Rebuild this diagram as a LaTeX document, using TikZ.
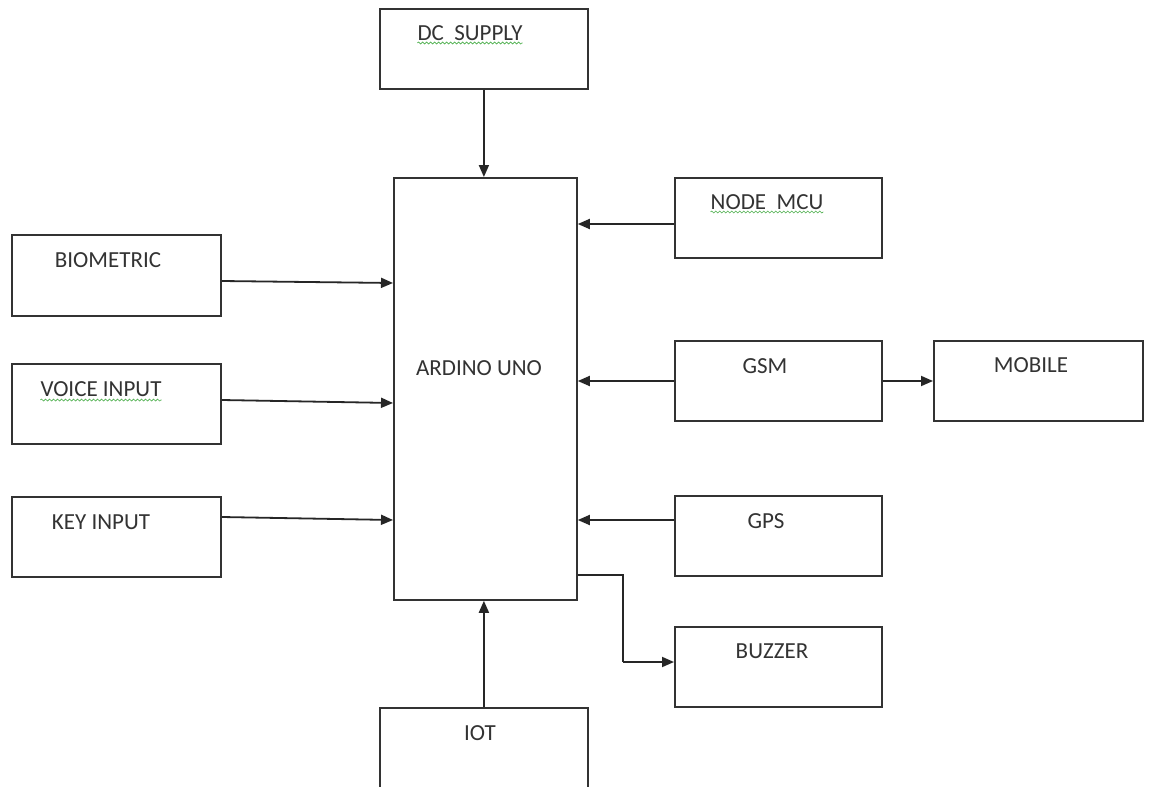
\documentclass[tikz,border=0pt]{standalone}
\usepackage{fontspec}
\setmainfont{Carlito}
\usetikzlibrary{arrows.meta,decorations.pathmorphing}
\begin{document}
\begin{tikzpicture}[x=1pt,y=-1pt,
  box/.style={draw=black!80, line width=1.8pt, rectangle, inner sep=0pt, anchor=north west},
  lbl/.style={text=black!80, font=\fontsize{23}{26}\selectfont, inner sep=0pt, anchor=center},
  arr/.style={draw=black!85, line width=1.8pt, -{Triangle[length=12pt,width=10pt]}},
  wire/.style={draw=black!85, line width=1.8pt},
  squig/.style={draw=green!55!black!70, line width=0.6pt, decorate,
    decoration={snake, amplitude=1pt, segment length=4pt}}]
\useasboundingbox[fill=white] (0,0) rectangle (1149,787);

% boxes
\node[box, minimum width=208pt, minimum height=80pt] (dc) at (379,8) {};
\node[box, minimum width=183pt, minimum height=422pt] (ard) at (393,177) {};
\node[box, minimum width=207pt, minimum height=80pt] (nmcu) at (674,177) {};
\node[box, minimum width=209pt, minimum height=81pt] (bio) at (11,234) {};
\node[box, minimum width=209pt, minimum height=80pt] (voice) at (11,363) {};
\node[box, minimum width=209pt, minimum height=80pt] (key) at (11,496) {};
\node[box, minimum width=207pt, minimum height=80pt] (gsm) at (674,340) {};
\node[box, minimum width=209pt, minimum height=80pt] (mob) at (933,340) {};
\node[box, minimum width=207pt, minimum height=80pt] (gps) at (674,495) {};
\node[box, minimum width=207pt, minimum height=80pt] (buz) at (674,626) {};
\node[box, minimum width=208pt, minimum height=100pt] (iot) at (379,707) {};

% labels
\node[lbl] (dct) at (470,33) {DC\ \ SUPPLY};
\node[lbl] (ardt) at (479,368) {ARDINO UNO};
\node[lbl] (nmcut) at (767,202) {NODE\ \ MCU};
\node[lbl] (biot) at (108,260) {BIOMETRIC};
\node[lbl] (voicet) at (101,389) {VOICE INPUT};
\node[lbl] (keyt) at (101,522) {KEY INPUT};
\node[lbl] (gsmt) at (765,366) {GSM};
\node[lbl] (mobt) at (1031,365) {MOBILE};
\node[lbl] (gpst) at (766,521) {GPS};
\node[lbl] (buzt) at (772,651) {BUZZER};
\node[lbl] (iott) at (480,733) {IOT};

% spell-check underlines
\draw[squig] ([yshift=-10pt]dct.west) -- ([yshift=-10pt]dct.east);
\draw[squig] ([yshift=-10pt]nmcut.west) -- ([yshift=-10pt]nmcut.east);
\draw[squig] ([yshift=-11pt]voicet.west) -- ([yshift=-11pt]voicet.east);

% connectors
\draw[arr] (dc.south) -- (dc.south |- ard.north);
\draw[arr] (bio.east |- 0,281) -- (ard.west |- 0,283);
\draw[arr] (voice.east |- 0,400) -- (ard.west |- 0,403);
\draw[arr] (key.east |- 0,517) -- (ard.west |- 0,520);
\draw[arr] (nmcu.west |- 0,224) -- (ard.east |- 0,224);
\draw[arr] (gsm.west |- 0,381) -- (ard.east |- 0,381);
\draw[arr] (gsm.east |- 0,381) -- (mob.west |- 0,381);
\draw[arr] (gps.west |- 0,520) -- (ard.east |- 0,520);
\coordinate (bend1) at (623,575);
\coordinate (bend2) at (623,662);
\draw[wire] (ard.east |- bend1) -- (bend1) -- (bend2);
\draw[arr] (bend2) -- (buz.west |- bend2);
\draw[arr] (iot.north) -- (iot.north |- ard.south);
\end{tikzpicture}
\end{document}
